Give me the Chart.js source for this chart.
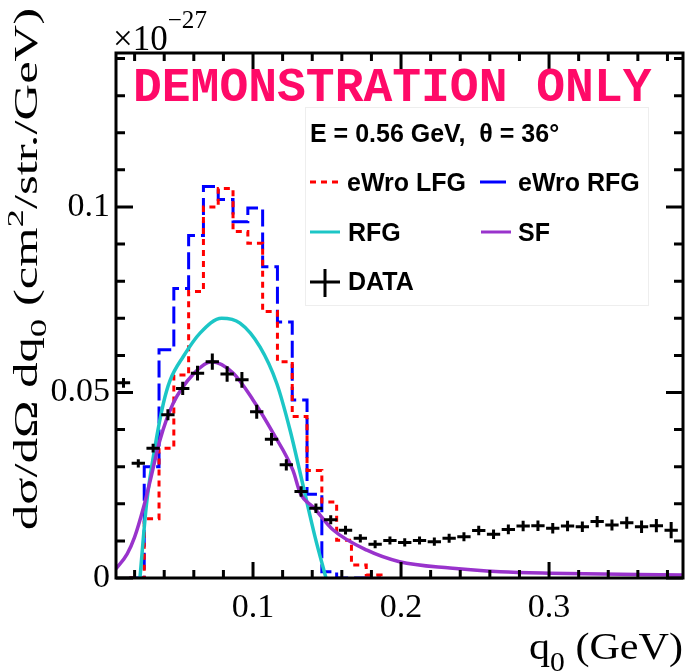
<!DOCTYPE html>
<html>
<head>
<meta charset="utf-8">
<script src="https://cdn.jsdelivr.net/npm/chart.js@4.4.0/dist/chart.umd.min.js"></script>
<style>
    html, body { margin: 0; padding: 0; background: #ffffff; }
    #grafico { display: block; }
</style>
</head>
<body>
<canvas id="grafico" width="685" height="672"></canvas>
<script>
// bordas dos bins dos histogramas eWro (GeV)
const binEdges = [0.0165, 0.0265, 0.0365, 0.0465, 0.0565, 0.0665, 0.0765, 0.0865, 0.0965,
    0.1065, 0.1165, 0.1265, 0.1365, 0.1465, 0.1565, 0.1665, 0.1765, 0.1865];
const lfgVals = [0, 0.016, 0.035, 0.0547, 0.0772, 0.1, 0.105, 0.0934, 0.0902,
    0.0718, 0.0583, 0.0435, 0.029, 0.0205, 0.0102, 0.0035, 0.0008];
const rfgHistVals = [0, 0.030, 0.0615, 0.078, 0.0923, 0.1055, 0.102, 0.096, 0.0997,
    0.0839, 0.069, 0.048, 0.0226, 0.0017, 0, 0, 0];

// curva RFG
const rfgX = [0.0236, 0.0281, 0.0338, 0.0394, 0.0439, 0.0529, 0.0642, 0.0788, 0.0912,
    0.1047, 0.116, 0.125, 0.134, 0.1419, 0.1493];
const rfgY = [0, 0.0201, 0.0354, 0.047, 0.0532, 0.0597, 0.066, 0.070, 0.0687,
    0.0623, 0.0525, 0.0399, 0.0246, 0.0111, 0];

// curva SF
const sfX = [0.0075, 0.015, 0.02, 0.026, 0.031, 0.037, 0.046, 0.0597, 0.072, 0.0867, 0.1,
    0.1137, 0.127, 0.132, 0.141, 0.154, 0.177, 0.199, 0.233, 0.267, 0.30, 0.39];
const sfY = [0.0025, 0.0065, 0.011, 0.019, 0.027, 0.037, 0.047, 0.055, 0.0583, 0.0552, 0.048,
    0.039, 0.029, 0.0228, 0.019, 0.013, 0.0075, 0.0044, 0.0027, 0.0017, 0.0013, 0.0008];

// pontos experimentais
const dataX = [0.0125, 0.0225, 0.0325, 0.0425, 0.0525, 0.0625, 0.0725, 0.0825, 0.0925, 0.1025,
    0.1125, 0.1225, 0.1325, 0.1425, 0.1525, 0.1625, 0.1725, 0.1825, 0.1925, 0.2025,
    0.2125, 0.2225, 0.2325, 0.2425, 0.2525, 0.2625, 0.2725, 0.2825, 0.2925, 0.3025,
    0.3125, 0.3225, 0.3325, 0.3425, 0.3525, 0.3625, 0.3725, 0.3825];
const dataY = [0.0526, 0.0309, 0.035, 0.044, 0.0511, 0.0552, 0.0583, 0.055, 0.0534, 0.0448,
    0.0374, 0.0305, 0.0233, 0.0188, 0.0157, 0.0129, 0.0107, 0.0091, 0.0101, 0.0096,
    0.0101, 0.0098, 0.0107, 0.0111, 0.0128, 0.0118, 0.0131, 0.014, 0.0141, 0.0134,
    0.014, 0.0138, 0.0152, 0.0143, 0.0149, 0.0138, 0.0141, 0.0129];
const dataErr = [0.0013, 0.0011, 0.0012, 0.0015, 0.0018, 0.002, 0.0022, 0.0021, 0.0021, 0.0019,
    0.0017, 0.0015, 0.0014, 0.0013, 0.0012, 0.0012, 0.0011, 0.0011, 0.0011, 0.0011,
    0.0011, 0.0011, 0.0012, 0.0012, 0.0013, 0.0013, 0.0013, 0.0014, 0.0014, 0.0014,
    0.0014, 0.0014, 0.0015, 0.0015, 0.0016, 0.0017, 0.0018, 0.0022];

const xTicks = [0.1, 0.2, 0.3];
const xTickLabels = ['0.1', '0.2', '0.3'];
const xMinor = [0.02, 0.04, 0.06, 0.08, 0.12, 0.14, 0.16, 0.18, 0.22, 0.24, 0.26, 0.28, 0.32, 0.34, 0.36, 0.38];
const yTicks = [0, 0.05, 0.1];
const yTickLabels = ['0', '0.05', '0.1'];
const yMinor = [0.01, 0.02, 0.03, 0.04, 0.06, 0.07, 0.08, 0.09, 0.11, 0.12, 0.13, 0.14];

function pontosHisto(bordas, valores) {
    var pts = valores.map(function (v, i) { return { x: bordas[i], y: v }; });
    pts.push({ x: bordas[bordas.length - 1], y: 0 });
    return pts;
}

function pontos(xs, ys) {
    return xs.map(function (x, i) { return { x: x, y: ys[i] }; });
}

function textoRico(ctx, partes, familia, x, y, ang, comprimento, escalaY, alinhar) {
    var w = 0;
    partes.forEach(function (p) {
        ctx.font = p.s + 'px ' + familia;
        w += ctx.measureText(p.t).width;
    });
    var sx = comprimento ? comprimento / w : 1;
    ctx.save();
    ctx.translate(x, y);
    ctx.rotate(ang);
    ctx.scale(sx, escalaY || 1);
    ctx.textAlign = 'left';
    ctx.textBaseline = 'alphabetic';
    ctx.fillStyle = '#000000';
    var cx = alinhar === 'right' ? -w : 0;
    partes.forEach(function (p) {
        ctx.font = p.s + 'px ' + familia;
        ctx.fillText(p.t, cx, p.dy || 0);
        cx += ctx.measureText(p.t).width;
    });
    ctx.restore();
}

const serif = '"Liberation Serif", "DejaVu Serif", serif';
const sans = 'bold 25px "Liberation Sans", Arial, sans-serif';

const fundo = {
    id: 'fundo',
    beforeDraw: function (chart) {
        var ctx = chart.ctx;
        ctx.save();
        ctx.fillStyle = '#ffffff';
        ctx.fillRect(0, 0, chart.width, chart.height);
        ctx.restore();
    }
};

const barrasDeErro = {
    id: 'barrasDeErro',
    afterDatasetsDraw: function (chart) {
        var ctx = chart.ctx;
        var sx = chart.scales.x, sy = chart.scales.y;
        ctx.save();
        ctx.strokeStyle = '#000000';
        ctx.lineWidth = 3;
        ctx.lineCap = 'butt';
        dataX.forEach(function (x, i) {
            var px = sx.getPixelForValue(x), py = sy.getPixelForValue(dataY[i]);
            ctx.beginPath();
            ctx.moveTo(sx.getPixelForValue(x - 0.0045), py);
            ctx.lineTo(sx.getPixelForValue(x + 0.0045), py);
            ctx.moveTo(px, sy.getPixelForValue(dataY[i] - dataErr[i]));
            ctx.lineTo(px, sy.getPixelForValue(dataY[i] + dataErr[i]));
            ctx.stroke();
        });

        // moldura e marcas para dentro
        var a = chart.chartArea;
        ctx.lineWidth = 3;
        ctx.strokeRect(a.left, a.top, a.right - a.left, a.bottom - a.top);
        ctx.beginPath();
        xTicks.concat(xMinor).forEach(function (v) {
            var p = sx.getPixelForValue(v);
            var l = xTicks.indexOf(v) >= 0 ? 16 : 8;
            ctx.moveTo(p, a.bottom); ctx.lineTo(p, a.bottom - l);
            ctx.moveTo(p, a.top); ctx.lineTo(p, a.top + l);
        });
        yTicks.concat(yMinor).forEach(function (v) {
            var p = sy.getPixelForValue(v);
            var l = yTicks.indexOf(v) >= 0 ? 17 : 9;
            ctx.moveTo(a.left, p); ctx.lineTo(a.left + l, p);
            ctx.moveTo(a.right, p); ctx.lineTo(a.right - l, p);
        });
        ctx.stroke();
        ctx.restore();
    }
};

const textos = {
    id: 'textos',
    afterDraw: function (chart) {
        var ctx = chart.ctx;

        // titulos dos eixos
        textoRico(ctx, [{ t: 'dσ/dΩ dq', s: 33 }, { t: '0', s: 24, dy: 9 },
            { t: ' (cm', s: 33 }, { t: '2', s: 24, dy: -14 }, { t: '/str./GeV)', s: 33 }],
            serif, 37, 530, -Math.PI / 2, 522, 1, 'left');
        textoRico(ctx, [{ t: 'q', s: 37 }, { t: '0', s: 26, dy: 11 }, { t: ' (GeV)', s: 37 }],
            serif, 683, 659, 0, 154, 1.05, 'right');
        textoRico(ctx, [{ t: '×10', s: 32 }, { t: '−27', s: 23, dy: -20 }],
            serif, 113, 50, 0, 94, 1.1, 'left');

        // marca d'agua
        ctx.save();
        ctx.fillStyle = '#ff0a68';
        ctx.font = 'bold 48px "Liberation Mono", "DejaVu Sans Mono", monospace';
        ctx.textAlign = 'left';
        ctx.textBaseline = 'alphabetic';
        ctx.fillText('DEMONSTRATION ONLY', 133, 101);
        ctx.restore();

        // legenda
        ctx.save();
        ctx.fillStyle = '#ffffff';
        ctx.strokeStyle = '#eeeeee';
        ctx.lineWidth = 1;
        ctx.fillRect(305, 107, 343, 198);
        ctx.strokeRect(305.5, 107.5, 343, 198);
        ctx.fillStyle = '#000000';
        ctx.font = sans;
        ctx.textBaseline = 'alphabetic';
        ctx.fillText('E = 0.56 GeV,  θ = 36°', 310, 142);

        var ds = chart.data.datasets;
        var itens = [
            { d: ds[2], x: 310, y: 191, w: 30, tx: 347, dash: [6, 5] },
            { d: ds[3], x: 480, y: 191, w: 26, tx: 518, dash: [] },
            { d: ds[1], x: 310, y: 241, w: 30, tx: 348, dash: [] },
            { d: ds[0], x: 481, y: 241, w: 30, tx: 518, dash: [] }
        ];
        itens.forEach(function (it) {
            ctx.strokeStyle = it.d.borderColor;
            ctx.lineWidth = 3;
            ctx.setLineDash(it.dash);
            ctx.beginPath();
            ctx.moveTo(it.x, it.y - 9);
            ctx.lineTo(it.x + it.w, it.y - 9);
            ctx.stroke();
            ctx.setLineDash([]);
            ctx.fillText(it.d.label, it.tx, it.y);
        });
        ctx.strokeStyle = '#000000';
        ctx.lineWidth = 3;
        ctx.beginPath();
        ctx.moveTo(310, 282); ctx.lineTo(340, 282);
        ctx.moveTo(325, 269); ctx.lineTo(325, 297);
        ctx.stroke();
        ctx.fillText(ds[4].label, 348, 290);
        ctx.restore();
    }
};

const grafico = document.getElementById('grafico');

const config_grafico = {
    type: 'line',
    data: {
        datasets: [
            {
                label: 'SF',
                data: pontos(sfX, sfY),
                borderColor: '#9933cc',
                borderWidth: 3.5,
                pointRadius: 0,
                cubicInterpolationMode: 'monotone'
            },
            {
                label: 'RFG',
                data: pontos(rfgX, rfgY),
                borderColor: '#1cc6c6',
                borderWidth: 3.5,
                pointRadius: 0,
                cubicInterpolationMode: 'monotone'
            },
            {
                label: 'eWro LFG',
                data: pontosHisto(binEdges, lfgVals),
                borderColor: '#ff0000',
                borderWidth: 3,
                borderDash: [6, 5],
                pointRadius: 0,
                stepped: true
            },
            {
                label: 'eWro RFG',
                data: pontosHisto(binEdges, rfgHistVals),
                borderColor: '#0000ff',
                borderWidth: 3,
                borderDash: [17, 6],
                pointRadius: 0,
                stepped: true
            },
            {
                label: 'DATA',
                data: pontos(dataX, dataY),
                showLine: false,
                pointRadius: 0,
                borderColor: '#000000'
            }
        ]
    },
    options: {
        responsive: false,
        animation: false,
        devicePixelRatio: 1,
        layout: { padding: { top: 53, right: 2, left: 0, bottom: 0 } },
        scales: {
            x: {
                type: 'linear',
                min: 0.00743,
                max: 0.3905,
                grid: { display: false, drawTicks: false },
                border: { display: false },
                afterFit: function (scale) { scale.height = 94; },
                afterBuildTicks: function (scale) {
                    scale.ticks = xTicks.map(function (v) { return { value: v }; });
                },
                ticks: {
                    autoSkip: false,
                    maxRotation: 0,
                    padding: 10,
                    color: '#000000',
                    font: { size: 34, family: '"Liberation Serif", serif' },
                    callback: function (value) { return xTickLabels[xTicks.indexOf(value)]; }
                }
            },
            y: {
                type: 'linear',
                min: 0,
                max: 0.1415,
                grid: { display: false, drawTicks: false },
                border: { display: false },
                afterFit: function (scale) { scale.width = 116; },
                afterBuildTicks: function (scale) {
                    scale.ticks = yTicks.map(function (v) { return { value: v }; });
                },
                ticks: {
                    autoSkip: false,
                    padding: 6,
                    color: '#000000',
                    font: { size: 34, family: '"Liberation Serif", serif' },
                    callback: function (value) { return yTickLabels[yTicks.indexOf(value)]; }
                }
            }
        },
        plugins: {
            legend: { display: false },
            tooltip: { enabled: false },
            title: { display: false }
        }
    },
    plugins: [fundo, barrasDeErro, textos]
};

const grafico_1 = new Chart(grafico, config_grafico);
</script>
</body>
</html>
